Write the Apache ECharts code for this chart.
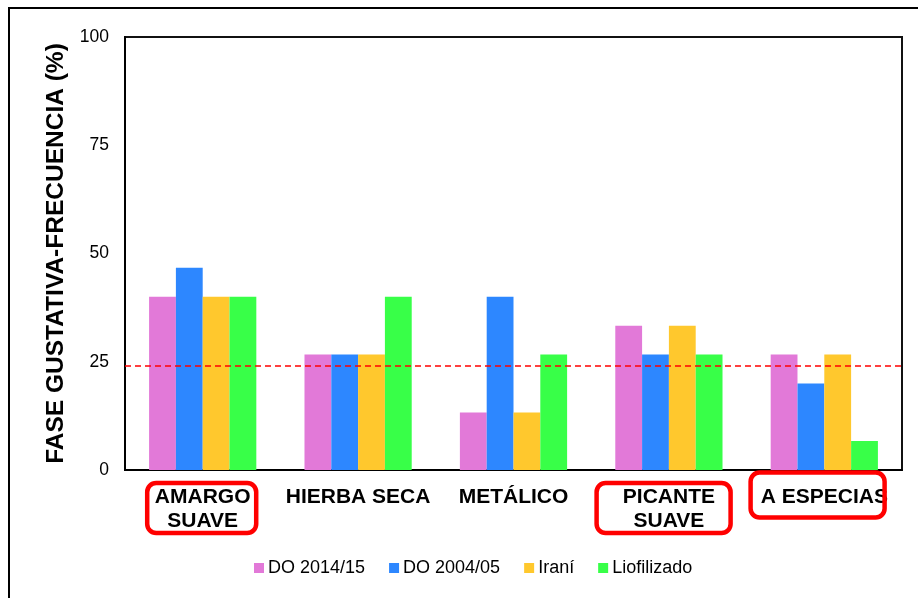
<!DOCTYPE html>
<html>
<head>
<meta charset="utf-8">
<script src="https://cdn.jsdelivr.net/npm/echarts@6/dist/echarts.min.js"></script>
<style>
  html, body { margin: 0; padding: 0; background: #fff; }
  #chart { width: 918px; height: 598px; }
</style>
</head>
<body>
<div id="chart"></div>
<script>
// ---- data ----
const categories = ['AMARGO\nSUAVE', 'HIERBA SECA', 'METÁLICO', 'PICANTE\nSUAVE', 'A ESPECIAS'];
const seriesNames = ['DO 2014/15', 'DO 2004/05', 'Iraní', 'Liofilizado'];
const do201415 = [40, 26.7, 13.3, 33.3, 26.7];
const do200405 = [46.7, 26.7, 40, 26.7, 20];
const irani = [40, 26.7, 13.3, 33.3, 26.7];
const liofilizado = [40, 40, 26.7, 26.7, 6.7];
const referenceLine = 24;
const yTicks = [0, 25, 50, 75, 100];
const highlighted = [0, 3, 4]; // categories with red frame

// ---- styles ----
const colors = ['#E279D8', '#2D87FF', '#FFC82D', '#38FF48'];
const FONT = 'Liberation Sans, Arial, sans-serif';
// frame geometry relative to category center / x-axis baseline
const frameStyle = {
  0: { dx: -55.5, dy: 13, w: 109, h: 50 },
  3: { dx: -72.3, dy: 13, w: 134, h: 50 },
  4: { dx: -73.7, dy: 2.5, w: 134, h: 45 }
};

const chart = echarts.init(document.getElementById('chart'), null, { renderer: 'canvas' });
const allData = [do201415, do200405, irani, liofilizado];

const option = {
  backgroundColor: '#fff',
  animation: false,
  textStyle: { fontFamily: FONT },
  grid: {
    left: 125, top: 37, right: 16, bottom: 128,
    show: true, borderColor: '#111', borderWidth: 2, backgroundColor: 'transparent'
  },
  legend: {
    data: seriesNames,
    left: 249, top: 554,
    icon: 'rect', itemWidth: 10, itemHeight: 10, itemGap: 24,
    textStyle: { fontSize: 18, color: '#000', fontFamily: FONT, padding: [0, 0, 0, -1] }
  },
  xAxis: {
    type: 'category',
    data: categories,
    axisLine: { show: true, lineStyle: { color: '#000', width: 2 } },
    axisTick: { show: false },
    axisLabel: {
      interval: 0, margin: 15, fontSize: 21, fontWeight: 'bold', lineHeight: 24,
      color: '#000', fontFamily: FONT, verticalAlign: 'top'
    }
  },
  yAxis: {
    type: 'value',
    min: yTicks[0], max: yTicks[yTicks.length - 1], interval: 25,
    name: 'FASE GUSTATIVA-FRECUENCIA (%)',
    nameLocation: 'middle', nameGap: 50,
    nameTextStyle: { fontSize: 24.5, fontWeight: 'bold', color: '#000', fontFamily: FONT },
    axisLine: { show: true, lineStyle: { color: '#000', width: 2 } },
    axisTick: { show: false },
    splitLine: { show: false },
    axisLabel: { fontSize: 17.5, color: '#000', margin: 16, fontFamily: FONT }
  },
  series: seriesNames.map((name, i) => {
    const s = {
      name: name,
      type: 'bar',
      data: allData[i],
      barGap: '0%',
      barCategoryGap: '31%',
      itemStyle: { color: colors[i] }
    };
    if (i === 0) {
      s.markLine = {
        silent: true,
        symbol: ['none', 'none'],
        label: { show: false },
        lineStyle: { color: '#FF0000', type: [6, 4], width: 1.5 },
        data: [{ yAxis: referenceLine }],
        z: 10
      };
    }
    return s;
  })
};
chart.setOption(option);

// red frames around selected category labels, positioned through the axis scale
const baseY = chart.convertToPixel({ yAxisIndex: 0 }, 0);
const frames = highlighted.map(idx => {
  const cx = chart.convertToPixel({ xAxisIndex: 0 }, categories[idx]);
  const f = frameStyle[idx];
  return {
    type: 'rect',
    z: 100,
    shape: { x: cx + f.dx, y: baseY + f.dy, width: f.w, height: f.h, r: 9 },
    style: { fill: 'none', stroke: '#FF0000', lineWidth: 4.5 }
  };
});
frames.push({
  type: 'rect',
  z: 100,
  shape: { x: 9, y: 8, width: 1200, height: 1200 },
  style: { fill: 'none', stroke: '#000', lineWidth: 2 }
});
chart.setOption({ graphic: frames });
</script>
</body>
</html>
